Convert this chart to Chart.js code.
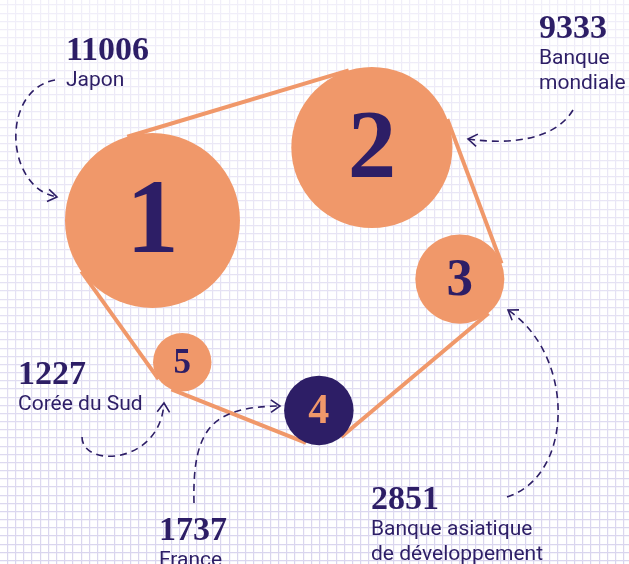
<!DOCTYPE html>
<html lang="fr">
<head>
<meta charset="utf-8">
<script src="https://cdn.jsdelivr.net/npm/chart.js@4.4.1/dist/chart.umd.min.js"></script>
<style>
    html, body { margin: 0; padding: 0; background: #ffffff; }
    canvas { display: block; }
</style>
</head>
<body>
<canvas id="chart" width="629" height="564"></canvas>
<script>
// order of the bubbles = rank
const ranks = ['1', '2', '3', '4', '5'];
const values = [11006, 9333, 2851, 1737, 1227];
const names = [
    ['Japon'],
    ['Banque', 'mondiale'],
    ['Banque asiatique', 'de développement'],
    ['France'],
    ['Corée du Sud']
];
// bubble centres, in grid cells
const posX = [17.66, 44.35, 55.05, 37.9, 21.28];
const posY = [26.38, 17.44, 33.55, 49.63, 43.72];

const ORANGE = '#f0986a';
const NAVY = '#2d1e66';
const R_SCALE = 0.834; // px of radius per sqrt(value)

// where the value/name text and the dashed arrow of each callout go (px)
const callouts = [
    { tx: 66, ty: 60, curve: [[55, 80], [0, 90], [5, 188], [57, 197]] },
    { tx: 539, ty: 38, curve: [[573, 110], [555, 140], [510, 145], [468, 139]] },
    { tx: 371, ty: 509, curve: [[507, 497], [575, 475], [575, 355], [508, 310]] },
    { tx: 159, ty: 540, curve: [[194, 503], [192, 425], [215, 407], [280, 406]] },
    { tx: 18, ty: 384, curve: [[82, 437], [82, 468], [160, 465], [164, 403]] }
];

let gridGradient = null;
function gridColor(ctx) {
    const chart = ctx.chart;
    if (!gridGradient) {
        gridGradient = chart.ctx.createLinearGradient(0, 0, 0, chart.height);
        gridGradient.addColorStop(0, '#f1eff9');
        gridGradient.addColorStop(1, '#d9d5ee');
    }
    return gridGradient;
}

// outer tangent between two circles, on the left side of the a->b direction
function outerTangent(a, b) {
    const dx = b.x - a.x, dy = b.y - a.y;
    const d = Math.sqrt(dx * dx + dy * dy);
    const ux = dx / d, uy = dy / d;
    const ex = uy, ey = -ux;
    const k = (a.r - b.r) / d;
    const s = Math.sqrt(1 - k * k);
    const nx = k * ux + s * ex, ny = k * uy + s * ey;
    return [a.x + a.r * nx, a.y + a.r * ny, b.x + b.r * nx, b.y + b.r * ny];
}

const bandPlugin = {
    id: 'band',
    beforeDatasetsDraw(chart) {
        const pts = chart.getDatasetMeta(0).data.map(el => ({ x: el.x, y: el.y, r: el.options.radius }));
        const ctx = chart.ctx;
        ctx.save();
        ctx.strokeStyle = ORANGE;
        ctx.lineWidth = 4;
        ctx.lineCap = 'butt';
        for (let i = 0; i < pts.length; i++) {
            const t = outerTangent(pts[i], pts[(i + 1) % pts.length]);
            ctx.beginPath();
            ctx.moveTo(t[0], t[1]);
            ctx.lineTo(t[2], t[3]);
            ctx.stroke();
        }
        ctx.restore();
    },
    afterDatasetsDraw(chart) {
        const ctx = chart.ctx;
        ctx.save();
        ctx.textAlign = 'center';
        ctx.textBaseline = 'alphabetic';
        chart.getDatasetMeta(0).data.forEach((el, i) => {
            const fs = Math.round(el.options.radius * 1.2);
            ctx.font = 'bold ' + fs + 'px "Liberation Serif"';
            ctx.fillStyle = i === 3 ? ORANGE : NAVY;
            ctx.fillText(ranks[i], el.x, el.y + fs * 0.3);
        });
        ctx.restore();
    },
    afterDraw(chart) {
        const ctx = chart.ctx;
        ctx.save();
        ctx.fillStyle = NAVY;
        ctx.strokeStyle = NAVY;
        ctx.textAlign = 'left';
        ctx.textBaseline = 'alphabetic';
        callouts.forEach((c, i) => {
            ctx.font = 'bold 34px "Liberation Serif"';
            ctx.fillText(String(values[i]), c.tx, c.ty);
            ctx.font = '21px Roboto';
            names[i].forEach((line, j) => ctx.fillText(line, c.tx, c.ty + 26 + j * 25));

            const p = c.curve;
            ctx.lineWidth = 1.6;
            ctx.setLineDash([7, 5]);
            ctx.beginPath();
            ctx.moveTo(p[0][0], p[0][1]);
            ctx.bezierCurveTo(p[1][0], p[1][1], p[2][0], p[2][1], p[3][0], p[3][1]);
            ctx.stroke();

            // open arrow head
            ctx.setLineDash([]);
            const ang = Math.atan2(p[3][1] - p[2][1], p[3][0] - p[2][0]);
            const len = 11;
            ctx.beginPath();
            ctx.moveTo(p[3][0] - len * Math.cos(ang - 0.6), p[3][1] - len * Math.sin(ang - 0.6));
            ctx.lineTo(p[3][0], p[3][1]);
            ctx.lineTo(p[3][0] - len * Math.cos(ang + 0.6), p[3][1] - len * Math.sin(ang + 0.6));
            ctx.stroke();
        });
        ctx.restore();
    }
};

const ctx = document.getElementById('chart').getContext('2d');
const chart = new Chart(ctx, {
    type: 'bubble',
    data: {
        datasets: [{
            data: values.map((v, i) => ({ x: posX[i], y: posY[i], r: R_SCALE * Math.sqrt(v) })),
            backgroundColor: values.map((v, i) => i === 3 ? NAVY : ORANGE),
            borderWidth: 0
        }]
    },
    options: {
        responsive: false,
        animation: false,
        events: [],
        layout: { padding: 0, autoPadding: false },
        plugins: {
            legend: { display: false },
            tooltip: { enabled: false }
        },
        scales: {
            x: {
                type: 'linear',
                min: -0.89,
                max: 75.63,
                border: { display: false },
                grid: { color: gridColor, lineWidth: 1.2, drawTicks: false },
                ticks: { display: false, stepSize: 1, includeBounds: false }
            },
            y: {
                type: 'linear',
                reverse: true,
                min: -0.61,
                max: 68.42,
                border: { display: false },
                grid: { color: gridColor, lineWidth: 1.2, drawTicks: false },
                ticks: { display: false, stepSize: 1, includeBounds: false }
            }
        }
    },
    plugins: [bandPlugin]
});
</script>
</body>
</html>
